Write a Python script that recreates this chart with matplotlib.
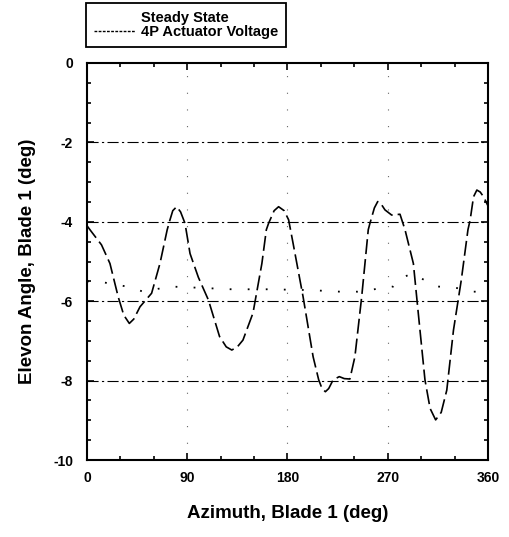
import matplotlib
matplotlib.use('Agg')
import matplotlib.pyplot as plt
from matplotlib.lines import Line2D

# 4P actuator voltage run (dashed curve)
azimuth = [0, 4, 13, 20.6, 28, 33, 38, 42, 47.6, 58, 65.5, 72, 74.5, 77, 80.5, 84, 88,
           92.5, 100, 109, 119, 125, 130, 135, 140, 149, 157, 161, 163, 168, 172, 177,
           181, 185, 194, 203, 208, 211, 214, 217, 221, 226.5, 231, 236, 240.5, 246.6,
           252.5, 254, 258, 261, 264, 267.5, 273.5, 281, 285.5, 290, 293, 297.4, 303.4,
           308, 313, 318, 323, 329, 336, 342, 344, 347, 350, 353, 356, 360]
elevon = [-4.1, -4.25, -4.58, -5.05, -5.89, -6.35, -6.56, -6.45, -6.14, -5.8, -5.05, -4.2,
          -3.95, -3.72, -3.62, -3.75, -4.04, -4.8, -5.4, -5.97, -6.89, -7.15, -7.23,
          -7.15, -6.98, -6.3, -5.05, -4.2, -4.04, -3.72, -3.62, -3.72, -3.95, -4.54,
          -5.89, -7.40, -7.98, -8.2, -8.28, -8.2, -7.98, -7.9, -7.95, -7.96, -7.40,
          -5.89, -4.2, -4.04, -3.65, -3.49, -3.55, -3.70, -3.83, -3.81, -4.2, -4.71,
          -5.05, -6.3, -7.98, -8.7, -8.99, -8.8, -8.24, -6.73, -5.47, -4.2, -3.95, -3.37,
          -3.2, -3.25, -3.37, -3.6]

# steady state (dotted)
ss_azimuth = [0, 11.7, 35.6, 50.6, 74.5, 91, 130, 162, 200, 227, 243, 275, 282.5,
              291.5, 297, 314, 329, 347, 360]
ss_elevon = [-5.5, -5.51, -5.63, -5.76, -5.63, -5.65, -5.7, -5.7, -5.72, -5.76, -5.76,
             -5.63, -5.42, -5.30, -5.38, -5.63, -5.65, -5.76, -5.76]

grid_y = [-2, -4, -6, -8]
grid_x = [90, 180, 270]

plt.rcParams['font.family'] = ['Liberation Sans', 'DejaVu Sans']
plt.rcParams['font.weight'] = 'bold'
plt.rcParams['axes.unicode_minus'] = False

fig = plt.figure(figsize=(5.1, 5.37), dpi=100)
ax = fig.add_axes([87 / 510, 1 - 460 / 537, 401 / 510, 397 / 537])

for gy in grid_y:
    ax.axhline(gy, color='black', lw=0.8, ls=(0, (10, 3, 2, 3)), zorder=1)
for gx in grid_x:
    ax.axvline(gx, color='0.4', lw=0.8, ls=(0, (1, 14)), zorder=1)

ax.plot(ss_azimuth, ss_elevon, color='black', lw=1.3, ls=(0, (1, 9)))
ax.plot(azimuth, elevon, color='black', lw=1.2, ls=(0, (9, 3)))

ax.set_xlim(0, 360)
ax.set_ylim(-10, 0)
ax.set_xticks([0, 90, 180, 270, 360])
ax.set_xticks(range(0, 361, 30), minor=True)
ax.set_yticks([0, -2, -4, -6, -8, -10])
ax.set_yticks([v * 0.5 for v in range(-20, 1)], minor=True)
ax.tick_params(direction='in', which='both', top=True, right=True, labelsize=10,
               width=1.2)
ax.tick_params(which='major', length=5)
ax.tick_params(which='minor', length=3)
ax.tick_params(axis='x', pad=8)
ax.tick_params(axis='y', pad=10)
for s in ax.spines.values():
    s.set_linewidth(1.5)

ax.set_xlabel('Azimuth, Blade 1 (deg)', fontsize=13.5, fontweight='bold', labelpad=14)
ax.set_ylabel('Elevon Angle, Blade 1 (deg)', fontsize=13.5, fontweight='bold', labelpad=12)

handles = [Line2D([], [], color='white', lw=0),
           Line2D([], [], color='black', lw=1, ls=(0, (2, 1)))]
leg = ax.legend(handles, ['Steady State', '4P Actuator Voltage'],
                loc='upper left', bbox_to_anchor=(86 / 510, 1 - 3 / 537),
                bbox_transform=fig.transFigure, fancybox=False, framealpha=1,
                edgecolor='black', prop={'size': 10.5, 'weight': 'bold'},
                handlelength=2.8, handletextpad=0.4, labelspacing=0.0,
                borderpad=0.55, borderaxespad=0)
leg.get_frame().set_linewidth(1.3)

fig.savefig('out.png', dpi=100)
